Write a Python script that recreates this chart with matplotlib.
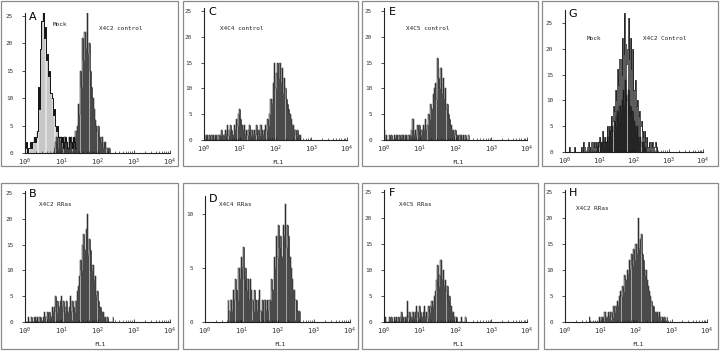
import numpy as np
import matplotlib
matplotlib.use("Agg")
import matplotlib.pyplot as plt
from matplotlib.patches import Rectangle
from matplotlib.ticker import LogLocator, FixedLocator

plt.rcParams['font.family'] = ['DejaVu Sans Mono']
plt.rcParams['mathtext.fontset'] = 'dejavusans'

W, H = 720, 352
CH_PER_DEC = 32   # histogram channels per decade

# histogram counts: (first channel index, counts)
a_mock = (0, [1, 2, 0, 1, 1, 2, 1, 2, 3, 2, 3, 4, 12, 8, 19, 24, 26, 21, 23, 17, 18, 14, 15, 11,
              10, 7, 8, 5, 4, 5, 3, 3, 2, 3, 1, 2, 3, 2, 1, 3, 2, 2, 1, 3, 2, 1])
a_ctrl = (26, [1, 2, 3, 1, 3, 2, 3, 1, 2, 3, 3, 2, 1, 3, 2, 3, 1, 2, 3, 4,
               5, 9, 7, 15, 12, 21, 17, 22, 19, 26, 18, 20, 15, 12, 10, 8, 6, 5, 4, 5,
               3, 2, 3, 1, 2, 2, 1, 1, 1, 1])
c_ctrl = (0, [1, 0, 1, 1, 0, 1, 0, 1, 1, 0, 1, 1, 0, 1, 1, 1,
              2, 1, 1, 2, 1, 3, 1, 2,
              3, 2, 1, 3, 2, 4, 3, 5, 6, 4, 3, 2, 3,
              1, 2, 1, 2, 3, 1, 2, 1, 2, 1, 3, 1, 2, 1, 3, 2, 1, 2, 3, 2,
              4, 3, 5, 8, 7, 11,
              15, 10, 13, 15, 12, 15, 11, 14, 9, 12, 10, 8, 7, 6, 5, 4,
              3, 3, 2, 2, 1, 2, 1, 1, 0])
e_ctrl = (0, [2, 0, 1, 0, 0, 1, 0, 1, 0, 1, 0, 1, 1, 0, 1, 0, 1, 1, 0, 1, 1, 0, 1, 1, 1,
              2, 4, 1, 2, 1, 3, 2, 3, 1, 2, 3, 2, 4, 2,
              3, 5, 4, 7, 6, 9, 10, 11, 8, 16, 12, 10, 14, 9, 12, 8, 10, 6, 7, 5,
              4, 3, 2, 2, 1, 2, 1, 1, 0, 1, 1, 0, 1, 0, 1, 0, 0, 1])
g_mock = (0, [0, 0, 0, 0, 1, 0, 0, 0, 0, 1, 0, 0, 0, 0, 0, 1, 0, 2, 1, 0, 0, 1, 2, 1, 0, 2,
              1, 2, 1, 2, 1, 2, 3, 2, 1, 4, 2, 3, 2, 5, 3,
              5, 4, 7, 6, 9, 8, 12, 10, 16, 13, 18, 15, 22, 19, 27, 21, 17, 20, 26, 18, 22,
              16, 20, 12, 14, 9, 10, 7, 8, 5, 6, 4,
              3, 4, 2, 3, 1, 2, 2, 1, 2, 1, 1, 2, 1, 0])
g_ctrl = (30, [1, 1, 2, 1, 1, 2, 1, 2, 2, 3, 2, 3, 4, 3, 5, 4, 6, 5, 7, 8, 6, 9, 8, 10, 12,
               9, 14, 11, 10, 12, 8, 9, 7, 8, 6, 5, 4, 5, 3, 2, 3, 2, 1, 2, 1, 1])
b_rras = (0, [0, 0, 0, 1, 0, 0, 1, 0, 1, 1, 0, 1, 0, 1, 1, 0,
              1, 2, 1, 1, 2, 1, 2, 1, 3, 2,
              3, 5, 2, 4, 3, 4, 5, 3, 4, 2, 3, 4, 2,
              3, 5, 2, 4, 3, 2, 4, 6,
              7, 9, 12, 10, 15, 17, 14, 18, 21, 13, 16, 14, 10, 11, 8, 9, 5, 6, 4, 3,
              3, 2, 2, 1, 1, 0, 1, 0, 0, 0, 0, 1])
d_rras = (20, [2, 0, 1, 2, 1, 3, 2, 4, 3, 2, 5,
               4, 6, 5, 7, 4, 5, 3, 4, 2, 4,
               3, 2, 1, 3, 2, 1, 2, 3, 1, 1, 2, 0,
               2, 1, 2, 1, 2, 2,
               4, 3, 6, 5, 8, 6, 9, 7, 8, 6, 9, 8, 11, 7, 9, 8, 6, 5, 4, 3, 3, 2, 2, 1, 1, 1])
f_rras = (0, [0, 1, 0, 0, 0, 1, 0, 1, 0, 1, 0, 1, 0, 1, 0, 1, 2, 1, 0, 1, 1, 4,
              1, 2, 1, 1, 2, 1, 2, 3, 2, 1, 3, 2, 1, 2, 3, 1, 2, 1, 3, 2, 3,
              4, 3, 5, 6, 8, 11, 7, 9, 12, 8, 10, 7, 8, 6, 7, 4, 5, 3, 2,
              2, 1, 1, 1, 0, 0, 0, 1, 0, 0, 0, 1])
h_rras = (22, [1, 0, 0, 0, 0, 0, 0, 0, 0, 1, 0, 1, 1, 0, 2, 1, 1, 2, 1, 2, 2, 1, 3, 2,
               3, 4, 3, 5, 6, 5, 7, 6, 9, 8, 10, 9, 12, 10, 13, 11, 14, 12, 15, 13, 20, 14,
               16, 17, 13, 12, 9, 10, 8,
               7, 6, 5, 4, 3, 3, 2, 2, 2, 1, 2, 1, 1, 1, 0, 1, 0, 1])

# panels: letter, axes box in px (left, right, y0, ytop), ylim top, yticks, series, texts, FL1
panels = [
    ("A", (25, 170, 153, 13), 25.5, [0, 5, 10, 15, 20, 25],
     [(a_mock, 'outline'), (a_ctrl, 'filled')],
     [("Mock", 60, 25), ("X4C2 control", 121, 29)], False),
    ("C", (204, 347, 140, 8), 25.6, [0, 5, 10, 15, 20, 25], [(c_ctrl, 'filled')],
     [("X4C4 control", 242, 28)], True),
    ("E", (384, 527, 140, 8), 25.6, [0, 5, 10, 15, 20, 25], [(e_ctrl, 'filled')],
     [("X4C5 control", 428, 29)], True),
    ("G", (565, 703, 152, 10), 27.5, [0, 5, 10, 15, 20, 25],
     [(g_mock, 'spikes'), (g_ctrl, 'filled')],
     [("Mock", 594, 39), ("X4C2 Control", 665, 39)], False),
    ("B", (25, 170, 322, 191), 25.4, [0, 5, 10, 15, 20, 25], [(b_rras, 'filled')],
     [("X4C2 RRas", 55, 204)], True),
    ("D", (205, 350, 322, 196), 11.7, [0, 5, 10], [(d_rras, 'filled')],
     [("X4C4 RRas", 235, 204)], True),
    ("F", (384, 527, 322, 190), 25.4, [0, 5, 10, 15, 20, 25], [(f_rras, 'filled')],
     [("X4C5 RRas", 415, 204)], True),
    ("H", (565, 707, 322, 190), 25.4, [0, 5, 10, 15, 20, 25], [(h_rras, 'filled')],
     [("X4C2 RRas", 592, 209)], True),
]
frames = [(1, 178, 1, 166), (183, 358, 1, 166), (362, 538, 1, 166), (542, 718, 1, 166),
          (1, 178, 183, 349), (183, 358, 183, 349), (362, 538, 183, 349), (544, 718, 183, 349)]


def fx(x):
    return x / W


def fy(y):
    return 1 - y / H


fig = plt.figure(figsize=(7.2, 3.52), dpi=100)
fig.patch.set_facecolor('white')

for (x0, x1, y0, y1) in frames:
    fig.patches.append(Rectangle((fx(x0), fy(y1)), fx(x1 - x0), (y1 - y0) / H,
                                 transform=fig.transFigure, fill=False,
                                 edgecolor='#8a8a8a', lw=0.9))

for letter, (l, r, b, t), ytop, yt, series, texts, fl1 in panels:
    ax = fig.add_axes([fx(l), fy(b), fx(r - l), (b - t) / H])
    ax.set_facecolor('none')
    for (start, counts), style in series:
        idx = np.arange(start, start + len(counts))
        x = 10 ** (idx / CH_PER_DEC)
        c = np.array(counts, dtype=float)
        if style == 'filled':
            ax.fill_between(x, c, step='mid', color='#a4a4a4', lw=0)
            ax.step(x, c, where='mid', color='#111111', lw=0.35)
            ax.vlines(x, 0, c, color='#151515', lw=0.45)
        elif style == 'spikes':
            ax.step(x, c, where='mid', color='#111111', lw=0.5)
            ax.vlines(x, 0, c, color='#151515', lw=0.5)
        else:
            # mock outline with lighter spikes inside
            ax.vlines(x, 0, c, color='#6a6a6a', lw=0.3)
            ax.step(x, c, where='mid', color='#111111', lw=0.7)
    ax.set_xscale('log')
    ax.set_xlim(1, 1e4)
    ax.set_ylim(0, ytop)
    ax.yaxis.set_major_locator(FixedLocator(yt))
    ax.xaxis.set_major_locator(LogLocator(base=10, numticks=10))
    ax.xaxis.set_minor_locator(LogLocator(base=10, subs=np.arange(2, 10), numticks=20))
    for s in ['top', 'right']:
        ax.spines[s].set_visible(False)
    for s in ['left', 'bottom']:
        ax.spines[s].set_linewidth(0.8)
        ax.spines[s].set_color('#222222')
    ax.tick_params(axis='y', direction='out', length=2.5, width=0.6, labelsize=4.3,
                   pad=6, colors='#333333')
    ax.tick_params(axis='x', which='major', direction='in', length=2.5, width=0.6,
                   labelsize=5, pad=2.5, colors='#333333')
    ax.tick_params(axis='x', which='minor', direction='in', length=1.5, width=0.4)
    fig.text(fx(l + 8), fy((t + 4) if b < 200 else (t + 3)), letter,
             family='DejaVu Sans', fontsize=8, ha='center', va='center')
    for txt, tx, ty in texts:
        fig.text(fx(tx), fy(ty), txt, fontsize=4.3, ha='center', va='center',
                 color='#222222')
    if fl1:
        fig.text(fx((l + r) / 2 + 2), fy(b + 22), "FL1", fontsize=4.5, ha='center',
                 va='center', color='#222222')

fig.savefig("out.png", dpi=100)
